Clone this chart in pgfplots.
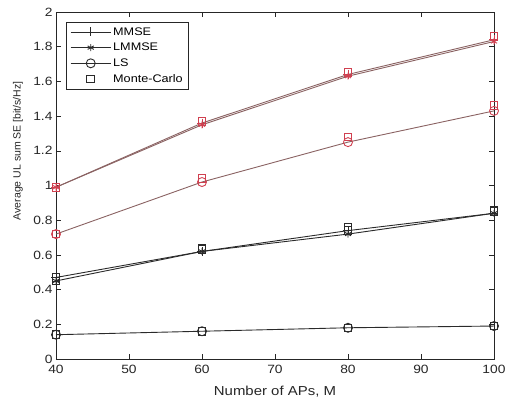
\documentclass[border=0pt]{standalone}
\usepackage{fontspec}
\setmainfont[FakeStretch=1.15]{Liberation Sans}
\newfontfamily\ylfont{Liberation Sans}
\usepackage{pgfplots}
\pgfplotsset{compat=1.18}
\definecolor{axgray}{HTML}{262626}
\definecolor{blk}{HTML}{2A2A2A}
\definecolor{rline}{HTML}{8A6262}
\definecolor{rmark}{HTML}{D04050}
\begin{document}
\begin{tikzpicture}
\useasboundingbox (-56pt,-46pt) rectangle (451pt,359pt);
\begin{axis}[
  at={(0pt,0pt)}, anchor=south west,
  scale only axis, width=438pt, height=347pt,
  xmin=40, xmax=100, ymin=0, ymax=2,
  xtick={40,50,...,100},
  ytick={0,0.2,...,2.01},
  /pgf/number format/assume math mode=true,
  yticklabel style={/pgf/number format/fixed},
  xticklabel style={yshift=-3pt},
  tick label style={font=\fontsize{12}{14}\selectfont, text=axgray},
  tick align=inside,
  major tick length=5pt,
  axis line style={axgray, line width=0.6pt},
  every tick/.style={axgray, line width=0.5pt},
  xlabel={Number of APs, M},
  ylabel={\ylfont Average UL sum SE [bit/s/Hz]},
  xlabel style={font=\fontsize{13}{15}\selectfont, text=axgray, at={(axis description cs:0.5,-0.095)}, anchor=center},
  ylabel style={font=\fontsize{10.5}{12}\selectfont, text=axgray, at={(axis description cs:-0.087,0.60)}, anchor=center},
  legend style={at={(axis description cs:0.0228,0.971)}, anchor=north west, draw=axgray, line width=0.6pt,
    font=\fontsize{11}{13}\selectfont, row sep=2.5pt, inner xsep=4pt, inner ysep=3pt, cells={anchor=west}},
  legend cell align=left,
  legend image code/.code={\draw[mark repeat=2,mark phase=2,#1] plot coordinates {(0pt,0pt) (20pt,0pt) (40pt,0pt)};},
]
% ---- black group (legend entries)
\addplot[blk, line width=0.9pt, mark=+, mark size=4.5pt] coordinates {(40,0.47) (60,0.62) (80,0.74) (100,0.84)};
\addlegendentry{MMSE}
\addplot[blk, line width=0.9pt, mark=asterisk, mark size=3.5pt] coordinates {(40,0.45) (60,0.62) (80,0.72) (100,0.84)};
\addlegendentry{LMMSE}
\addplot[blk, line width=0.9pt, mark=o, mark size=4.5pt] coordinates {(40,0.14) (60,0.16) (80,0.18) (100,0.19)};
\addlegendentry{LS}
\addplot[blk, only marks, line width=0.9pt, mark=square, mark size=3.8pt] coordinates {(40,0.47) (60,0.64) (80,0.76) (100,0.86)};
\addlegendentry{Monte-Carlo}
\addplot[blk, only marks, line width=0.9pt, mark=square, mark size=3.8pt, forget plot] coordinates {(40,0.45) (60,0.63) (80,0.74) (100,0.85)};
\addplot[blk, only marks, line width=0.9pt, mark=square, mark size=3.8pt, forget plot] coordinates {(40,0.14) (60,0.16) (80,0.18) (100,0.19)};
% ---- red group
\addplot[rline, line width=0.9pt, mark=+, mark size=4.5pt, mark options={rmark}, forget plot] coordinates {(40,0.99) (60,1.36) (80,1.64) (100,1.84)};
\addplot[rline, line width=0.9pt, mark=asterisk, mark size=3.5pt, mark options={rmark}, forget plot] coordinates {(40,0.99) (60,1.35) (80,1.63) (100,1.83)};
\addplot[rline, line width=0.9pt, mark=o, mark size=4.5pt, mark options={rmark}, forget plot] coordinates {(40,0.72) (60,1.02) (80,1.25) (100,1.43)};
\addplot[rmark, only marks, line width=0.9pt, mark=square, mark size=3.8pt, forget plot] coordinates {(40,0.99) (60,1.37) (80,1.65) (100,1.86)};
\addplot[rmark, only marks, line width=0.9pt, mark=square, mark size=3.8pt, forget plot] coordinates {(40,0.72) (60,1.04) (80,1.28) (100,1.46)};
\end{axis}
\end{tikzpicture}
\end{document}
